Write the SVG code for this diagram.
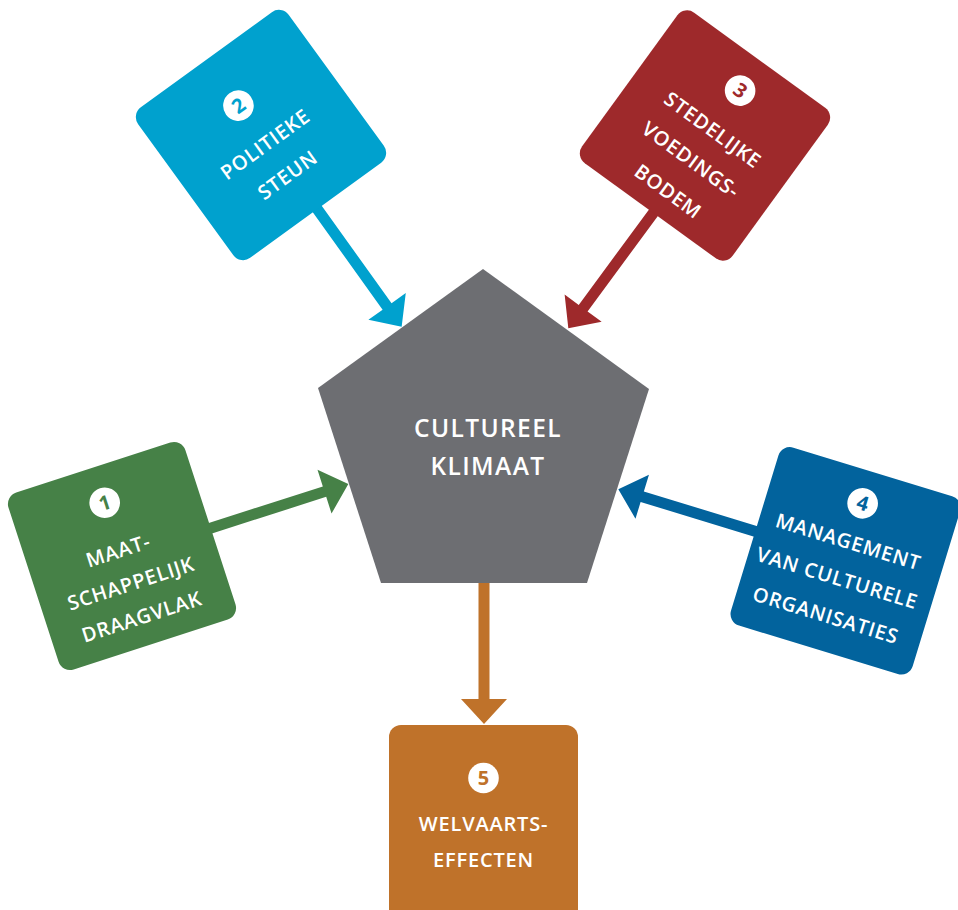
<svg xmlns="http://www.w3.org/2000/svg" width="958" height="910" viewBox="0 0 958 910">
<style>
.lbl{font-family:"Open Sans","Liberation Sans",sans-serif;font-weight:600;font-size:20px;letter-spacing:0.8px;fill:#ffffff;text-anchor:middle}
.num{font-family:"Open Sans","Liberation Sans",sans-serif;font-weight:700;font-size:20px;text-anchor:middle}
.ctr{font-family:"Open Sans","Liberation Sans",sans-serif;font-weight:600;font-size:24.5px;letter-spacing:1.4px;fill:#ffffff;text-anchor:middle}
</style>
<rect width="958" height="910" fill="#ffffff"/>
<g id="connectors">
  <path id="arrow1" fill="#468147" transform="translate(191,534.4) rotate(-17.76)" d="M0,-5.5 H140.2 V-23 L165.2,0 L140.2,23 V5.5 H0 Z"/>
  <path id="arrow2" fill="#00A1CE" transform="translate(306.3,193.8) rotate(54.35)" d="M0,-5.5 H138.6 V-23 L163.6,0 L138.6,23 V5.5 H0 Z"/>
  <path id="arrow3" fill="#9E292B" transform="translate(663.6,198.9) rotate(126.36)" d="M0,-5.5 H135.7 V-23 L160.7,0 L135.7,23 V5.5 H0 Z"/>
  <path id="arrow4" fill="#02639D" transform="translate(775.8,537.6) rotate(197.03)" d="M0,-5.5 H139.7 V-23 L164.7,0 L139.7,23 V5.5 H0 Z"/>
  <path id="arrow5" fill="#BF722A" transform="translate(484,570) rotate(90)" d="M0,-5.5 H129 V-23 L154,0 L129,23 V5.5 H0 Z"/>
</g>
<g id="center">
  <polygon points="483,269 649,389 587,583 381,583 318,388" fill="#6D6E72"/>
  <text class="ctr" x="488" y="437">CULTUREEL</text>
  <text class="ctr" x="488" y="475">KLIMAAT</text>
</g>
<g id="node1" transform="translate(122,556) rotate(-18)">
  <rect x="-93" y="-93" width="186" height="186" rx="12" fill="#468147"/>
  <circle cx="0" cy="-56" r="15.3" fill="#ffffff"/>
  <text class="num" x="0" y="-49" fill="#468147">1</text>
  <text class="lbl" x="-2" y="1">MAAT-</text>
  <text class="lbl" x="0" y="36">SCHAPPELIJK</text>
  <text class="lbl" x="0" y="71">DRAAGVLAK</text>
</g>
<g id="node2" transform="translate(261,135) rotate(-36)">
  <rect x="-93" y="-93" width="186" height="186" rx="12" fill="#00A1CE"/>
  <circle cx="-1" cy="-37" r="15.3" fill="#ffffff"/>
  <text class="num" x="-1" y="-30" fill="#00A1CE">2</text>
  <text class="lbl" x="-2" y="17">POLITIEKE</text>
  <text class="lbl" x="-2" y="55">STEUN</text>
</g>
<g id="node3" transform="translate(705,135.5) rotate(36)">
  <rect x="-93" y="-93" width="186" height="186" rx="12" fill="#9E292B"/>
  <circle cx="2" cy="-57" r="15.3" fill="#ffffff"/>
  <text class="num" x="2" y="-50" fill="#9E292B">3</text>
  <text class="lbl" x="3" y="-2">STEDELIJKE</text>
  <text class="lbl" x="3" y="35">VOEDINGS-</text>
  <text class="lbl" x="3" y="74">BODEM</text>
</g>
<g id="node4" transform="translate(843,559) rotate(17)">
  <rect x="-92" y="-92" width="190" height="186" rx="12" fill="#02639D"/>
  <circle cx="2.5" cy="-59" r="15.3" fill="#ffffff"/>
  <text class="num" x="2.5" y="-52" fill="#02639D">4</text>
  <text class="lbl" x="0" y="-11">MANAGEMENT</text>
  <text class="lbl" x="0" y="27">VAN CULTURELE</text>
  <text class="lbl" x="0" y="66">ORGANISATIES</text>
</g>
<g id="node5" transform="translate(483.5,816)">
  <rect x="-94.5" y="-91" width="189" height="200" rx="12" fill="#BF722A"/>
  <circle cx="0" cy="-38" r="15.3" fill="#ffffff"/>
  <text class="num" x="0" y="-31" fill="#BF722A">5</text>
  <text class="lbl" x="0" y="15">WELVAARTS-</text>
  <text class="lbl" x="0" y="51">EFFECTEN</text>
</g>
</svg>
